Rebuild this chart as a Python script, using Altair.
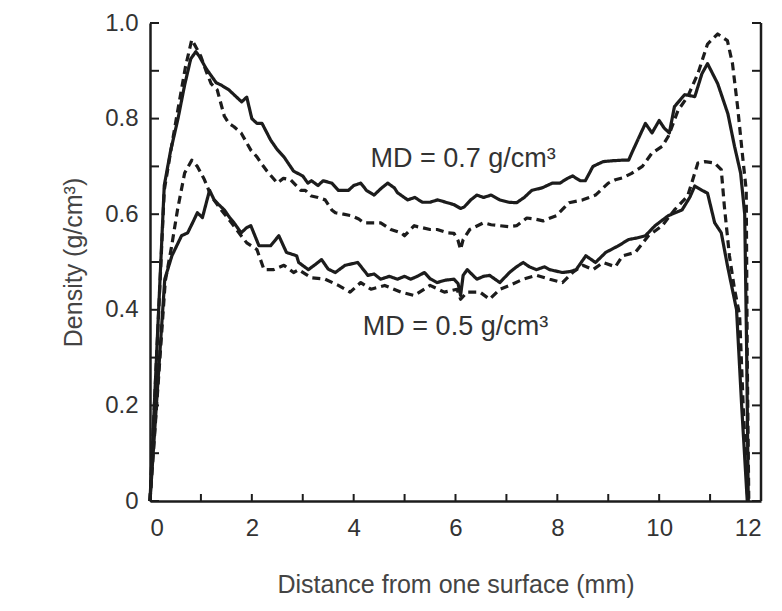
import altair as alt
import pandas as pd

# ---- data ----
# MD = 0.7 g/cm3, solid line
x_07_solid = [0.00, 0.28, 0.40, 0.55, 0.68, 0.80, 0.90, 0.97, 1.10, 1.20, 1.30, 1.40, 1.55, 1.65, 1.80, 1.90,
              2.00, 2.10, 2.20, 2.37, 2.50, 2.63, 2.82, 3.00, 3.10, 3.17, 3.30, 3.40, 3.57, 3.70, 3.90, 4.00,
              4.14, 4.25, 4.40, 4.55, 4.67, 4.80, 4.86, 5.06, 5.20, 5.35, 5.50, 5.65, 5.84, 5.97, 6.10, 6.17,
              6.30, 6.42, 6.55, 6.70, 6.87, 7.05, 7.20, 7.35, 7.50, 7.70, 7.90, 8.05, 8.20, 8.30, 8.45, 8.55,
              8.70, 8.90, 9.10, 9.28, 9.40, 9.47, 9.60, 9.73, 9.86, 10.00, 10.10, 10.20, 10.30, 10.50, 10.70,
              10.84, 10.95, 11.15, 11.35, 11.48, 11.60, 11.68, 11.72, 11.75]
y_07_solid = [0.00, 0.66, 0.73, 0.80, 0.87, 0.925, 0.94, 0.93, 0.905, 0.89, 0.875, 0.87, 0.86, 0.85, 0.835, 0.845,
              0.80, 0.79, 0.79, 0.755, 0.735, 0.72, 0.69, 0.68, 0.665, 0.67, 0.66, 0.67, 0.665, 0.65, 0.65, 0.66,
              0.665, 0.65, 0.64, 0.655, 0.665, 0.655, 0.645, 0.63, 0.635, 0.625, 0.625, 0.63, 0.624, 0.62, 0.612, 0.615,
              0.63, 0.64, 0.635, 0.64, 0.63, 0.625, 0.624, 0.635, 0.65, 0.655, 0.665, 0.665, 0.675, 0.68, 0.67, 0.67,
              0.70, 0.71, 0.712, 0.713, 0.713, 0.73, 0.76, 0.79, 0.77, 0.796, 0.78, 0.77, 0.825, 0.85, 0.846,
              0.894, 0.915, 0.873, 0.81, 0.742, 0.686, 0.60, 0.30, 0.00]

# MD = 0.7 g/cm3, dashed line
x_07_dash = [0.00, 0.28, 0.42, 0.55, 0.70, 0.82, 0.90, 1.00, 1.10, 1.20, 1.32, 1.46, 1.55, 1.65, 1.79, 1.98,
             2.10, 2.18, 2.30, 2.50, 2.62, 2.76, 2.96, 3.05, 3.17, 3.30, 3.44, 3.57, 3.64, 3.80, 3.95, 4.10,
             4.20, 4.35, 4.53, 4.73, 4.93, 5.00, 5.19, 5.25, 5.50, 5.64, 5.84, 5.97, 6.05, 6.10, 6.15, 6.28,
             6.55, 6.70, 6.87, 7.05, 7.20, 7.40, 7.55, 7.72, 7.98, 8.10, 8.23, 8.50, 8.75, 9.00, 9.14, 9.28,
             9.45, 9.67, 9.86, 10.06, 10.18, 10.37, 10.56, 10.76, 10.95, 11.15, 11.34, 11.44, 11.54, 11.64,
             11.71, 11.73, 11.76]
y_07_dash = [0.00, 0.65, 0.74, 0.82, 0.91, 0.965, 0.95, 0.93, 0.90, 0.873, 0.86, 0.805, 0.79, 0.783, 0.77, 0.734,
             0.72, 0.707, 0.69, 0.665, 0.675, 0.672, 0.65, 0.65, 0.638, 0.635, 0.63, 0.609, 0.603, 0.60, 0.597, 0.59,
             0.582, 0.582, 0.582, 0.568, 0.561, 0.555, 0.576, 0.574, 0.568, 0.568, 0.561, 0.56, 0.545, 0.526, 0.547, 0.568,
             0.582, 0.578, 0.576, 0.574, 0.576, 0.592, 0.59, 0.586, 0.597, 0.61, 0.624, 0.63, 0.64, 0.665, 0.672, 0.676,
             0.685, 0.70, 0.728, 0.742, 0.763, 0.817, 0.846, 0.894, 0.956, 0.977, 0.963, 0.915, 0.825, 0.72,
             0.65, 0.30, 0.00]

# MD = 0.5 g/cm3, solid line
x_05_solid = [0.00, 0.29, 0.43, 0.62, 0.74, 0.85, 0.93, 1.03, 1.17, 1.26, 1.35, 1.46, 1.55, 1.65, 1.79, 1.90,
              1.98, 2.14, 2.37, 2.53, 2.68, 2.88, 2.92, 3.11, 3.25, 3.37, 3.50, 3.64, 3.83, 4.08, 4.28, 4.40,
              4.53, 4.70, 4.86, 5.00, 5.12, 5.25, 5.39, 5.50, 5.64, 5.80, 5.97, 6.05, 6.10, 6.15, 6.23, 6.42,
              6.55, 6.67, 6.87, 7.06, 7.20, 7.33, 7.45, 7.59, 7.75, 7.85, 8.10, 8.25, 8.37, 8.56, 8.75, 8.95,
              9.20, 9.40, 9.55, 9.73, 9.92, 10.18, 10.45, 10.60, 10.70, 10.84, 10.95, 11.09, 11.22, 11.34,
              11.52, 11.62, 11.73]
y_05_solid = [0.00, 0.464, 0.513, 0.555, 0.561, 0.585, 0.603, 0.593, 0.65, 0.63, 0.62, 0.609, 0.595, 0.582, 0.561, 0.572,
              0.576, 0.534, 0.534, 0.555, 0.52, 0.513, 0.499, 0.484, 0.495, 0.505, 0.485, 0.478, 0.493, 0.499, 0.472, 0.475,
              0.464, 0.47, 0.464, 0.47, 0.464, 0.47, 0.478, 0.465, 0.457, 0.462, 0.464, 0.455, 0.43, 0.472, 0.484, 0.464,
              0.47, 0.472, 0.457, 0.478, 0.49, 0.499, 0.49, 0.484, 0.49, 0.484, 0.478, 0.48, 0.484, 0.513, 0.499, 0.52,
              0.534, 0.547, 0.55, 0.555, 0.576, 0.597, 0.609, 0.635, 0.659, 0.65, 0.644, 0.582, 0.561, 0.493,
              0.40, 0.20, 0.00]

# MD = 0.5 g/cm3, dashed line
x_05_dash = [0.00, 0.30, 0.42, 0.54, 0.68, 0.82, 0.93, 1.07, 1.20, 1.40, 1.60, 1.79, 1.90, 2.10, 2.24, 2.43,
             2.63, 2.82, 2.92, 3.17, 3.44, 3.70, 3.93, 4.14, 4.34, 4.61, 4.93, 5.19, 5.50, 5.78, 6.03, 6.10,
             6.23, 6.48, 6.67, 6.87, 7.06, 7.33, 7.59, 7.85, 8.10, 8.30, 8.50, 8.70, 8.90, 9.14, 9.28, 9.53,
             9.79, 10.06, 10.30, 10.56, 10.76, 10.90, 11.09, 11.22, 11.28, 11.38, 11.48, 11.58, 11.65, 11.74]
y_05_dash = [0.00, 0.46, 0.53, 0.609, 0.686, 0.713, 0.70, 0.672, 0.638, 0.609, 0.582, 0.555, 0.54, 0.526, 0.484, 0.484,
             0.493, 0.478, 0.484, 0.467, 0.464, 0.451, 0.437, 0.457, 0.443, 0.451, 0.437, 0.43, 0.451, 0.437, 0.443, 0.422,
             0.437, 0.437, 0.422, 0.443, 0.451, 0.464, 0.472, 0.464, 0.457, 0.478, 0.493, 0.484, 0.499, 0.49, 0.513, 0.52,
             0.555, 0.576, 0.609, 0.638, 0.707, 0.71, 0.707, 0.693, 0.617, 0.513, 0.443, 0.389, 0.20, 0.00]

# annotations
ann_text = ["MD = 0.7 g/cm³", "MD = 0.5 g/cm³"]
ann_x = [6.15, 6.0]
ann_y = [0.715, 0.365]

x_ticks_major = [0, 2, 4, 6, 8, 10, 12]
x_ticks_all = list(range(0, 13))
y_ticks_major = [0, 0.2, 0.4, 0.6, 0.8, 1.0]
y_ticks_all = [0, 0.1, 0.2, 0.3, 0.4, 0.5, 0.6, 0.7, 0.8, 0.9, 1.0]

FONT = "Liberation Sans"
W, H = 611, 478
INK = "#1c1c1c"

rows = []
for name, style, xs, ys in [("0.7 solid", "solid", x_07_solid, y_07_solid),
                            ("0.7 dashed", "dashed", x_07_dash, y_07_dash),
                            ("0.5 solid", "solid", x_05_solid, y_05_solid),
                            ("0.5 dashed", "dashed", x_05_dash, y_05_dash)]:
    for i, (a, b) in enumerate(zip(xs, ys)):
        rows.append({"series": name, "style": style, "x": a, "y": b, "order": i})
df = pd.DataFrame(rows)

xscale = alt.Scale(domain=[0, 12], nice=False, zero=False)
yscale = alt.Scale(domain=[0, 1], nice=False)

x_axis = alt.Axis(values=x_ticks_major, tickSize=0, labelFontSize=24, labelColor="#333", labelFont=FONT,
                  labelPadding=15, domainColor=INK, domainWidth=2.5, grid=False,
                  title="Distance from one surface (mm)", titleFont=FONT, titleFontSize=25,
                  titleFontWeight="normal", titleColor="#444", titlePadding=32)
y_axis = alt.Axis(values=y_ticks_major, tickSize=0, labelFontSize=24, labelColor="#333", labelFont=FONT,
                  labelPadding=12, domainColor=INK, domainWidth=2.5, grid=False,
                  labelExpr="datum.value == 0 ? '0' : format(datum.value, '.1f')",
                  title="Density (g/cm³)", titleFont=FONT, titleFontSize=25,
                  titleFontWeight="normal", titleColor="#444", titlePadding=18)

lines = alt.Chart(df).mark_line(strokeWidth=3.2, color=INK, strokeJoin="round").encode(
    x=alt.X("x:Q", scale=xscale, axis=x_axis),
    y=alt.Y("y:Q", scale=yscale, axis=y_axis),
    detail="series:N",
    order="order:Q",
    strokeDash=alt.StrokeDash("style:N", scale=alt.Scale(domain=["solid", "dashed"], range=[[1, 0], [8, 5]]),
                              legend=None),
)

ann = alt.Chart(pd.DataFrame({"t": ann_text, "x": ann_x, "y": ann_y})).mark_text(
    font=FONT, fontSize=27, color="#333", align="center", baseline="middle").encode(
    x=alt.X("x:Q", scale=xscale), y=alt.Y("y:Q", scale=yscale), text="t:N")

yt = pd.DataFrame({"v": y_ticks_all})
xt = pd.DataFrame({"v": x_ticks_all})

left_ticks = alt.Chart(yt).mark_rule(color=INK, strokeWidth=2).encode(
    y=alt.Y("v:Q", scale=yscale), x=alt.value(0), x2=alt.value(9))
right_ticks = alt.Chart(yt).mark_rule(color=INK, strokeWidth=2).encode(
    y=alt.Y("v:Q", scale=yscale), x=alt.value(W), x2=alt.value(W - 9))
bottom_ticks = alt.Chart(xt).mark_rule(color=INK, strokeWidth=2).encode(
    x=alt.X("v:Q", scale=xscale), y=alt.value(H), y2=alt.value(H - 7))
right_line = alt.Chart(pd.DataFrame({"v": [0]})).mark_rule(color=INK, strokeWidth=2.5).encode(
    x=alt.value(W), y=alt.value(0), y2=alt.value(H))

chart = alt.layer(lines, ann, left_ticks, right_ticks, bottom_ticks, right_line).properties(
    width=W, height=H,
    autosize=alt.AutoSizeParams(type="none"),
    padding={"left": 142, "top": 15, "right": 13, "bottom": 98},
    background="white",
).configure_view(stroke=None)

chart.save("out.html", embed_options={"renderer": "svg", "actions": False})
